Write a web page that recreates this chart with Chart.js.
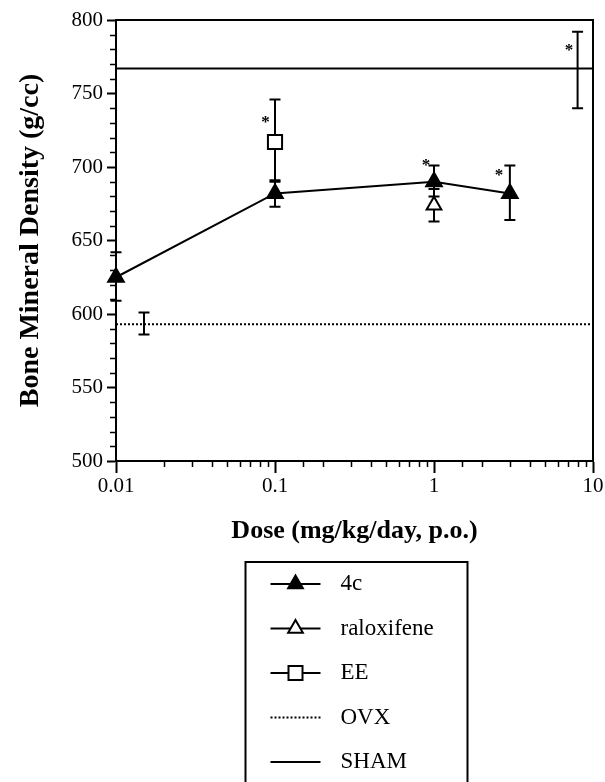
<!DOCTYPE html>
<html>
<head>
<meta charset="utf-8">
<script src="https://cdn.jsdelivr.net/npm/chart.js@4.4.1/dist/chart.umd.min.js"></script>
<style>
  html, body { margin: 0; padding: 0; background: #fff; }
</style>
</head>
<body>
<canvas id="bmdChart" width="605" height="782"></canvas>
<script>
// 4c (mg/kg/day) with SEM bars
const doses4c = [0.01, 0.1, 1, 3];
const bmd4c = [625, 682, 690, 682];
const lo4c = [609, 673, 680, 664];
const hi4c = [642, 691, 701, 701];

const dosesRalox = [1];
const bmdRalox = [674];
const loRalox = [663];
const hiRalox = [685];

const dosesEE = [0.1];
const bmdEE = [717];
const loEE = [690];
const hiEE = [746];

// control groups run across the whole dose range
const lineDoses = [0.01, 10];
const bmdOVX = 593;
const errOVX = [0.015, 586, 601]; // dose where the bar sits, low, high
const bmdSHAM = 767;
const errSHAM = [8, 740, 792];

// significance stars
const starDoses = [0.087, 0.89, 2.56, 7.06];
const starBmd = [733, 704, 697, 782];

const xTickLabels = ["0.01", "0.1", "1", "10"];
const yTickLabels = [500, 550, 600, 650, 700, 750, 800];
const legendLabels = ["4c", "raloxifene", "EE", "OVX", "SHAM"];

const serif = "'Liberation Serif', 'Times New Roman', serif";

function pts(xs, ys) {
    return xs.map((x, i) => ({ x: x, y: ys[i] }));
}

function isDecade(v) {
    let e = Math.log10(v);
    return Math.abs(e - Math.round(e)) < 1e-6;
}

// error bars: vertical line with caps
const errorBars = {
    id: "errorBars",
    beforeDatasetsDraw(chart) {
        const ctx = chart.ctx;
        const xs = chart.scales.x, ys = chart.scales.y;
        ctx.save();
        ctx.strokeStyle = "#000";
        ctx.lineWidth = 2;
        chart.data.datasets.forEach(ds => {
            if (!ds.errLo) return;
            ds.errLo.forEach((lo, i) => {
                let px = xs.getPixelForValue(ds.errX[i]);
                let top = ys.getPixelForValue(ds.errHi[i]);
                let bot = ys.getPixelForValue(lo);
                ctx.beginPath();
                ctx.moveTo(px, top); ctx.lineTo(px, bot);
                ctx.moveTo(px - 5.5, top); ctx.lineTo(px + 5.5, top);
                ctx.moveTo(px - 5.5, bot); ctx.lineTo(px + 5.5, bot);
                ctx.stroke();
            });
        });
        // frame on top and right
        const a = chart.chartArea;
        ctx.beginPath();
        ctx.moveTo(a.left, a.top); ctx.lineTo(a.right, a.top); ctx.lineTo(a.right, a.bottom);
        ctx.stroke();
        ctx.restore();
    },
    afterDatasetsDraw(chart) {
        const ctx = chart.ctx;
        const xs = chart.scales.x, ys = chart.scales.y;
        ctx.save();
        ctx.fillStyle = "#000";
        ctx.font = "bold 17px " + serif;
        ctx.textAlign = "center";
        ctx.textBaseline = "alphabetic";
        starDoses.forEach((d, i) => {
            ctx.fillText("*", xs.getPixelForValue(d), ys.getPixelForValue(starBmd[i]) + 9);
        });
        ctx.restore();
    }
};

// short minor ticks, the scale draws the long ones
const minorTicks = {
    id: "minorTicks",
    afterDraw(chart) {
        const ctx = chart.ctx;
        const xs = chart.scales.x, ys = chart.scales.y;
        ctx.save();
        ctx.strokeStyle = "#000";
        ctx.lineWidth = 1.5;
        ctx.beginPath();
        xs.ticks.forEach(t => {
            if (isDecade(t.value)) return;
            let px = Math.round(xs.getPixelForValue(t.value)) + 0.5;
            ctx.moveTo(px, xs.top); ctx.lineTo(px, xs.top + 6);
        });
        ys.ticks.forEach(t => {
            if (t.value % 50 === 0) return;
            let py = Math.round(ys.getPixelForValue(t.value)) + 0.5;
            ctx.moveTo(ys.right, py); ctx.lineTo(ys.right - 6, py);
        });
        ctx.stroke();
        ctx.restore();
    }
};

// boxed legend under the x axis title
const boxLegend = {
    id: "boxLegend",
    afterDraw(chart) {
        const ctx = chart.ctx;
        const a = chart.chartArea;
        const cx = (a.left + a.right) / 2 + 2;
        const left = cx - 111, right = cx + 111, top = a.bottom + 101;
        ctx.save();
        ctx.strokeStyle = "#000";
        ctx.lineWidth = 2;
        ctx.beginPath();
        ctx.moveTo(left, chart.height + 5);
        ctx.lineTo(left, top); ctx.lineTo(right, top); ctx.lineTo(right, chart.height + 5);
        ctx.stroke();

        ctx.font = "23px " + serif;
        ctx.textBaseline = "middle";
        ctx.textAlign = "left";
        chart.data.datasets.forEach((ds, i) => {
            let y = top + 22 + i * 44.5;
            let x0 = left + 25, x1 = left + 75, xm = (x0 + x1) / 2;
            ctx.lineWidth = 2;
            ctx.setLineDash(ds.borderDash || []);
            ctx.beginPath();
            ctx.moveTo(x0, y); ctx.lineTo(x1, y);
            ctx.stroke();
            ctx.setLineDash([]);
            ctx.fillStyle = ds.pointBackgroundColor;
            let r = ds.pointRadius;
            if (ds.pointStyle === "triangle" && r > 0) {
                r = 8.5;
                ctx.beginPath();
                ctx.moveTo(xm, y - r);
                ctx.lineTo(xm + r * 0.866, y + r / 2);
                ctx.lineTo(xm - r * 0.866, y + r / 2);
                ctx.closePath();
                ctx.fill(); ctx.stroke();
            } else if (ds.pointStyle === "rect" && r > 0) {
                let s = 7;
                ctx.fillRect(xm - s, y - s, 2 * s, 2 * s);
                ctx.strokeRect(xm - s, y - s, 2 * s, 2 * s);
            }
            ctx.fillStyle = "#000";
            ctx.fillText(ds.label, left + 95, y);
        });
        ctx.restore();
    }
};

const data = {
    datasets: [{
        label: legendLabels[0],
        data: pts(doses4c, bmd4c),
        errX: doses4c, errLo: lo4c, errHi: hi4c,
        borderColor: "#000", borderWidth: 2,
        pointStyle: "triangle", pointRadius: 9.5,
        pointBackgroundColor: "#000", pointBorderColor: "#000", pointBorderWidth: 1.5,
        clip: false, order: 1
    }, {
        label: legendLabels[1],
        data: pts(dosesRalox, bmdRalox),
        errX: dosesRalox, errLo: loRalox, errHi: hiRalox,
        borderColor: "#000", borderWidth: 2, showLine: false,
        pointStyle: "triangle", pointRadius: 8.5,
        pointBackgroundColor: "#fff", pointBorderColor: "#000", pointBorderWidth: 2,
        clip: false, order: 0
    }, {
        label: legendLabels[2],
        data: pts(dosesEE, bmdEE),
        errX: dosesEE, errLo: loEE, errHi: hiEE,
        borderColor: "#000", borderWidth: 2, showLine: false,
        pointStyle: "rect", pointRadius: 10,
        pointBackgroundColor: "#fff", pointBorderColor: "#000", pointBorderWidth: 2,
        clip: false, order: 0
    }, {
        label: legendLabels[3],
        data: pts(lineDoses, [bmdOVX, bmdOVX]),
        errX: [errOVX[0]], errLo: [errOVX[1]], errHi: [errOVX[2]],
        borderColor: "#000", borderWidth: 2, borderDash: [2, 2],
        pointRadius: 0, pointBackgroundColor: "#000", order: 2
    }, {
        label: legendLabels[4],
        data: pts(lineDoses, [bmdSHAM, bmdSHAM]),
        errX: [errSHAM[0]], errLo: [errSHAM[1]], errHi: [errSHAM[2]],
        borderColor: "#000", borderWidth: 2,
        pointRadius: 0, pointBackgroundColor: "#000", order: 2
    }]
};

new Chart(document.getElementById("bmdChart"), {
    type: "line",
    data: data,
    plugins: [errorBars, minorTicks, boxLegend],
    options: {
        responsive: false,
        animation: false,
        layout: { padding: { left: 0, top: 20, right: 12, bottom: 221 } },
        plugins: { legend: { display: false }, tooltip: { enabled: false } },
        elements: { line: { tension: 0 } },
        scales: {
            x: {
                type: "logarithmic",
                min: 0.01, max: 10,
                afterFit: s => { s.height = 100; },
                border: { display: true, color: "#000", width: 2 },
                grid: {
                    drawOnChartArea: false, drawTicks: true, tickLength: 12, tickWidth: 2,
                    tickColor: c => (c.tick && isDecade(c.tick.value)) ? "#000" : "rgba(0,0,0,0)"
                },
                ticks: {
                    autoSkip: false, maxRotation: 0, padding: 1, color: "#000",
                    font: { family: serif, size: 21 },
                    callback: v => isDecade(v) ? xTickLabels[Math.round(Math.log10(v)) + 2] : ""
                },
                title: {
                    display: true, text: "Dose (mg/kg/day, p.o.)", color: "#000",
                    font: { family: serif, size: 26, weight: "bold" },
                    padding: { top: 0, bottom: 14 }
                }
            },
            y: {
                min: 500, max: 800,
                afterFit: s => { s.width = 116; },
                border: { display: true, color: "#000", width: 2 },
                grid: {
                    drawOnChartArea: false, drawTicks: true, tickLength: 9, tickWidth: 2,
                    tickColor: c => (c.tick && yTickLabels.includes(c.tick.value)) ? "#000" : "rgba(0,0,0,0)"
                },
                ticks: {
                    stepSize: 10, autoSkip: false, padding: 4, color: "#000",
                    font: { family: serif, size: 21 },
                    callback: v => yTickLabels.includes(v) ? String(v) : ""
                },
                title: {
                    display: true, text: "Bone Mineral Density (g/cc)", color: "#000",
                    font: { family: serif, size: 28, weight: "bold" },
                    padding: { top: 14, bottom: 0 }
                }
            }
        }
    }
});
</script>
</body>
</html>
